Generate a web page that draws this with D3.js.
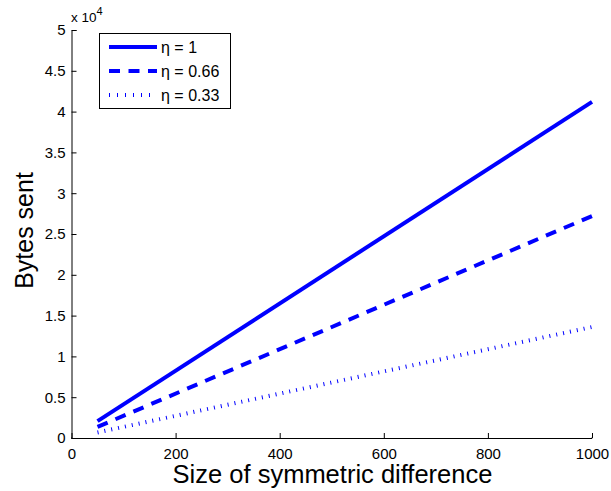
<!DOCTYPE html>
<html>
<head>
<meta charset="utf-8">
<script src="https://cdn.jsdelivr.net/npm/d3@7"></script>
<style>
  body { margin: 0; background: #fff; }
  svg text { font-family: "Liberation Sans", Arial, Helvetica, sans-serif; fill: #000; }
</style>
</head>
<body>
<svg id="chart" width="611" height="491"></svg>
<script>
// Set sizes on the x axis and bytes sent for each η
const setSizes = [50, 1000];
const bytesEta1 = [2060, 41200];
const bytesEta066 = [1360, 27200];
const bytesEta033 = [680, 13600];

const seriesNames = ["η = 1", "η = 0.66", "η = 0.33"];
const xTicks = [0, 200, 400, 600, 800, 1000];
const yTicks = [0, 0.5, 1, 1.5, 2, 2.5, 3, 3.5, 4, 4.5, 5];
const yTickLabels = ["0", "0.5", "1", "1.5", "2", "2.5", "3", "3.5", "4", "4.5", "5"];

const svg = d3.select("#chart");
const plotLeft = 71.5, plotRight = 592, plotTop = 30, plotBottom = 438;

const x = d3.scaleLinear().domain([0, 1000]).range([plotLeft, plotRight]);
const y = d3.scaleLinear().domain([0, 50000]).range([plotBottom, plotTop]);

const styles = [
  { width: 4, dash: null },
  { width: 4, dash: "11,8.5" },
  { width: 4, dash: "1,6" }
];
const seriesData = [bytesEta1, bytesEta066, bytesEta033];

const line = d3.line().x(d => x(d[0])).y(d => y(d[1]));

seriesData.forEach((vals, i) => {
  const pts = setSizes.map((s, j) => [s, vals[j]]);
  svg.append("path")
    .attr("d", line(pts))
    .attr("fill", "none")
    .attr("stroke", "#0000ff")
    .attr("stroke-width", styles[i].width)
    .attr("stroke-dasharray", styles[i].dash)
    .attr("stroke-linecap", "butt");
});

// Axes: ticks point into the plot
const xAxis = d3.axisBottom(x).tickValues(xTicks).tickSize(-5).tickPadding(10).tickFormat(d3.format("d"));
const yAxis = d3.axisLeft(y).tickValues(yTicks.map(v => v * 10000)).tickSize(-5).tickPadding(6)
  .tickFormat((d, i) => yTickLabels[i]);

const gx = svg.append("g").attr("transform", `translate(0,${plotBottom})`).call(xAxis);
const gy = svg.append("g").attr("transform", `translate(${plotLeft},0)`).call(yAxis);

[gx, gy].forEach(g => {
  g.select(".domain").attr("stroke", "#000").attr("stroke-width", 1);
  g.selectAll(".tick line").attr("stroke", "#000").attr("stroke-width", 1);
  g.selectAll(".tick text").attr("font-size", 15).attr("fill", "#000")
    .style("font-family", "'Liberation Sans', Arial, sans-serif");
});
gx.select(".domain").attr("d", `M${plotLeft},-0.5V0.5H${plotRight}V-0.5`);

// Exponent label
const expo = svg.append("text").attr("x", 71).attr("y", 22).attr("font-size", 13.5);
expo.append("tspan").text("x 10");
expo.append("tspan").attr("font-size", 11).attr("dy", -7).text("4");

// Axis titles
svg.append("text")
  .attr("x", 332.5).attr("y", 483)
  .attr("text-anchor", "middle").attr("font-size", 25.5)
  .text("Size of symmetric difference");

svg.append("text")
  .attr("transform", `translate(33,230.5) rotate(-90)`)
  .attr("text-anchor", "middle").attr("font-size", 25)
  .text("Bytes sent");

// Legend
const lg = svg.append("g");
lg.append("rect").attr("x", 99.5).attr("y", 33.5).attr("width", 131).attr("height", 75)
  .attr("fill", "#fff").attr("stroke", "#000").attr("stroke-width", 1);
const rowY = [47, 71, 95];
const legendDash = [null, "11,8.5", "1,7"];
seriesNames.forEach((name, i) => {
  lg.append("line")
    .attr("x1", 109).attr("x2", 157).attr("y1", rowY[i]).attr("y2", rowY[i])
    .attr("stroke", "#0000ff").attr("stroke-width", styles[i].width)
    .attr("stroke-dasharray", legendDash[i]);
  lg.append("text").attr("x", 161).attr("y", rowY[i] + 6).attr("font-size", 16).text(name);
});
</script>
</body>
</html>
